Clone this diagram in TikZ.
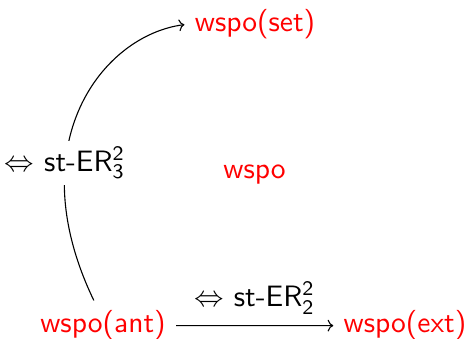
\documentclass[tikz,border=0pt]{standalone}
\usetikzlibrary{arrows.meta}
\tikzset{
  obj/.style={text=red, font=\sffamily, inner sep=3.33pt},
  lab/.style={text=black, font=\sffamily, inner sep=3.33pt},
  conn/.style={-{To[scale=1.4]}, line width=1.1pt, black}
}
\begin{document}
\begin{tikzpicture}[x=0.339pt,y=-0.339pt,scale=2.95,transform shape]
\useasboundingbox (0,0) rectangle (468,339);
\node[obj, anchor=base] (set) at (255,32) {wspo(set)};
\node[obj, anchor=base] (w) at (254.5,178.3) {wspo};
\node[obj, anchor=base] (ant) at (103,333) {wspo(ant)};
\node[obj, anchor=base] (ext) at (405,333) {wspo(ext)};
\draw[conn] (ant) -- node[lab, midway, above] (l2) {$\Leftrightarrow$ st-ER$^{\mathsf{2}}_{\mathsf{2}}$} (ext);
\draw[conn] (ant.110) .. controls (18,143) and (103,35) .. (set.west);
\node[lab, fill=white, inner sep=2pt] (l3) at (65,163) {$\Leftrightarrow$ st-ER$^{\mathsf{2}}_{\mathsf{3}}$};
\end{tikzpicture}
\end{document}
